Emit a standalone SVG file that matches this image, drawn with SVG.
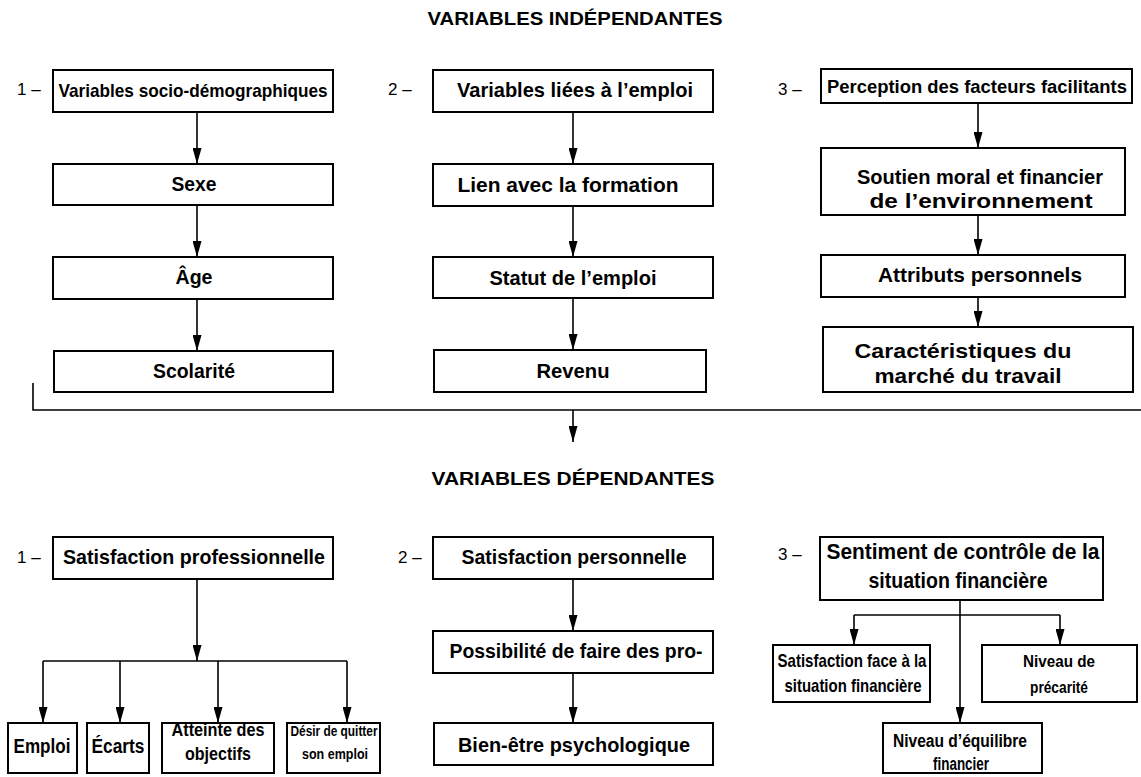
<svg xmlns="http://www.w3.org/2000/svg" width="1141" height="777" viewBox="0 0 1141 777">
<style>
.bx{fill:#fff;stroke:#000;stroke-width:2}
.t{font-family:"Liberation Sans",Arial,sans-serif;font-weight:bold;font-size:21px;text-anchor:middle;fill:#000}
.n{font-family:"Liberation Sans",Arial,sans-serif;font-size:17px;fill:#000}
.h{font-family:"Liberation Sans",Arial,sans-serif;font-weight:bold;font-size:18px;text-anchor:middle;fill:#000}
.c{fill:none;stroke:#000;stroke-width:1.6}
.a{marker-end:url(#ah)}
</style>
<defs>
<marker id="ah" viewBox="0 0 16 9" markerUnits="userSpaceOnUse" markerWidth="16" markerHeight="9" refX="16" refY="4.5" orient="auto">
<path d="M0,0 L16,4.5 L0,9 z" fill="#000"/>
</marker>
</defs>

<text class="h" x="575" y="25" textLength="295" lengthAdjust="spacingAndGlyphs">VARIABLES INDÉPENDANTES</text>
<text class="h" x="573" y="485" textLength="283" lengthAdjust="spacingAndGlyphs">VARIABLES DÉPENDANTES</text>

<g id="labels">
<text class="n" x="17" y="95">1 –</text>
<text class="n" x="388" y="95">2 –</text>
<text class="n" x="778" y="95">3 –</text>
<text class="n" x="17" y="563">1 –</text>
<text class="n" x="398" y="563">2 –</text>
<text class="n" x="778" y="560">3 –</text>
</g>

<g id="connectors">
<line class="c a" x1="197" y1="112" x2="197" y2="164"/>
<line class="c a" x1="197" y1="205" x2="197" y2="257"/>
<line class="c a" x1="197" y1="299" x2="197" y2="351"/>
<line class="c a" x1="573" y1="112" x2="573" y2="164"/>
<line class="c a" x1="573" y1="206" x2="573" y2="257"/>
<line class="c a" x1="573" y1="298" x2="573" y2="350"/>
<line class="c a" x1="978" y1="103" x2="978" y2="148"/>
<line class="c a" x1="978" y1="215" x2="978" y2="255"/>
<line class="c a" x1="978" y1="297" x2="978" y2="327"/>
<polyline class="c" points="33,383 33,410 1141,410"/>
<line class="c a" x1="573" y1="410" x2="573" y2="442"/>
<line class="c a" x1="197" y1="579" x2="197" y2="661"/>
<line class="c" x1="43" y1="661" x2="347" y2="661"/>
<line class="c a" x1="43" y1="661" x2="43" y2="723"/>
<line class="c a" x1="120" y1="661" x2="120" y2="723"/>
<line class="c a" x1="218" y1="661" x2="218" y2="723"/>
<line class="c a" x1="347" y1="661" x2="347" y2="723"/>
<line class="c a" x1="573" y1="579" x2="573" y2="631"/>
<line class="c a" x1="573" y1="673" x2="573" y2="723"/>
<line class="c a" x1="960" y1="600" x2="960" y2="723"/>
<line class="c" x1="854" y1="615" x2="1060" y2="615"/>
<line class="c a" x1="854" y1="615" x2="854" y2="645"/>
<line class="c a" x1="1060" y1="615" x2="1060" y2="645"/>
</g>

<g id="socio"><rect class="bx" x="53" y="70" width="280" height="42"/><text class="t" x="193" y="97" style="font-size:19px" textLength="269" lengthAdjust="spacingAndGlyphs">Variables socio-démographiques</text></g>
<g id="sexe"><rect class="bx" x="53" y="164" width="280" height="41"/><text class="t" x="194" y="191" textLength="45" lengthAdjust="spacingAndGlyphs">Sexe</text></g>
<g id="age"><rect class="bx" x="53" y="257" width="280" height="42"/><text class="t" x="194" y="284" textLength="37" lengthAdjust="spacingAndGlyphs">Âge</text></g>
<g id="scolarite"><rect class="bx" x="54" y="351" width="279" height="41"/><text class="t" x="194" y="378" textLength="82" lengthAdjust="spacingAndGlyphs">Scolarité</text></g>

<g id="emploi-vars"><rect class="bx" x="433" y="70" width="280" height="42"/><text class="t" x="575" y="97" textLength="236" lengthAdjust="spacingAndGlyphs">Variables liées à l’emploi</text></g>
<g id="lien"><rect class="bx" x="433" y="164" width="280" height="42"/><text class="t" x="568" y="192" textLength="221" lengthAdjust="spacingAndGlyphs">Lien avec la formation</text></g>
<g id="statut"><rect class="bx" x="433" y="257" width="280" height="41"/><text class="t" x="573" y="285" textLength="167" lengthAdjust="spacingAndGlyphs">Statut de l’emploi</text></g>
<g id="revenu"><rect class="bx" x="434" y="350" width="272" height="42"/><text class="t" x="573" y="378" textLength="73" lengthAdjust="spacingAndGlyphs">Revenu</text></g>

<g id="perception"><rect class="bx" x="821" y="69" width="311" height="34"/><text class="t" x="977" y="93" style="font-size:18px" textLength="300" lengthAdjust="spacingAndGlyphs">Perception des facteurs facilitants</text></g>
<g id="soutien"><rect class="bx" x="821" y="148" width="304" height="67"/><text class="t" x="980" y="184" textLength="246" lengthAdjust="spacingAndGlyphs">Soutien moral et financier</text><text class="t" x="981" y="208" textLength="223" lengthAdjust="spacingAndGlyphs">de l’environnement</text></g>
<g id="attributs"><rect class="bx" x="821" y="255" width="304" height="42"/><text class="t" x="980" y="282" textLength="204" lengthAdjust="spacingAndGlyphs">Attributs personnels</text></g>
<g id="marche"><rect class="bx" x="823" y="327" width="310" height="65"/><text class="t" x="963" y="358" textLength="217" lengthAdjust="spacingAndGlyphs">Caractéristiques du</text><text class="t" x="968" y="383" textLength="187" lengthAdjust="spacingAndGlyphs">marché du travail</text></g>

<g id="sat-pro"><rect class="bx" x="53" y="537" width="280" height="42"/><text class="t" x="194" y="564" textLength="262" lengthAdjust="spacingAndGlyphs">Satisfaction professionnelle</text></g>
<g id="emploi"><rect class="bx" x="8" y="723" width="69" height="50"/><text class="t" x="42" y="753" style="font-size:20px" textLength="57" lengthAdjust="spacingAndGlyphs">Emploi</text></g>
<g id="ecarts"><rect class="bx" x="87" y="723" width="62" height="50"/><text class="t" x="118" y="753" style="font-size:20px" textLength="53" lengthAdjust="spacingAndGlyphs">Écarts</text></g>
<g id="atteinte"><rect class="bx" x="162" y="723" width="112" height="50"/><text class="t" x="218" y="736" style="font-size:18px" textLength="93" lengthAdjust="spacingAndGlyphs">Atteinte des</text><text class="t" x="218" y="760" style="font-size:18px" textLength="66" lengthAdjust="spacingAndGlyphs">objectifs</text></g>
<g id="desir"><rect class="bx" x="287" y="723" width="93" height="50"/><text class="t" x="334" y="736" style="font-size:15px" textLength="87" lengthAdjust="spacingAndGlyphs">Désir de quitter</text><text class="t" x="335" y="759" style="font-size:15px" textLength="66" lengthAdjust="spacingAndGlyphs">son emploi</text></g>

<g id="sat-perso"><rect class="bx" x="433" y="537" width="280" height="42"/><text class="t" x="574" y="564" textLength="225" lengthAdjust="spacingAndGlyphs">Satisfaction personnelle</text></g>
<g id="possibilite"><rect class="bx" x="433" y="631" width="280" height="42"/><text class="t" x="576" y="658" textLength="253" lengthAdjust="spacingAndGlyphs">Possibilité de faire des pro-</text></g>
<g id="bien-etre"><rect class="bx" x="434" y="723" width="279" height="42"/><text class="t" x="574" y="752" textLength="232" lengthAdjust="spacingAndGlyphs">Bien-être psychologique</text></g>

<g id="sentiment"><rect class="bx" x="820" y="537" width="283" height="63"/><text class="t" x="963" y="559" style="font-size:22px" textLength="273" lengthAdjust="spacingAndGlyphs">Sentiment de contrôle de la</text><text class="t" x="958" y="588" style="font-size:22px" textLength="179" lengthAdjust="spacingAndGlyphs">situation financière</text></g>
<g id="sat-fin"><rect class="bx" x="773" y="645" width="157" height="57"/><text class="t" x="852" y="667" style="font-size:19px" textLength="149" lengthAdjust="spacingAndGlyphs">Satisfaction face à la</text><text class="t" x="853" y="692" style="font-size:19px" textLength="137" lengthAdjust="spacingAndGlyphs">situation financière</text></g>
<g id="precarite"><rect class="bx" x="982" y="645" width="155" height="57"/><text class="t" x="1059" y="667" style="font-size:17px" textLength="72" lengthAdjust="spacingAndGlyphs">Niveau de</text><text class="t" x="1059" y="693" style="font-size:17px" textLength="58" lengthAdjust="spacingAndGlyphs">précarité</text></g>
<g id="equilibre"><rect class="bx" x="883" y="723" width="159" height="50"/><text class="t" x="960" y="747" style="font-size:18px" textLength="134" lengthAdjust="spacingAndGlyphs">Niveau d’équilibre</text><text class="t" x="961" y="770" style="font-size:18px" textLength="56" lengthAdjust="spacingAndGlyphs">financier</text></g>
</svg>
